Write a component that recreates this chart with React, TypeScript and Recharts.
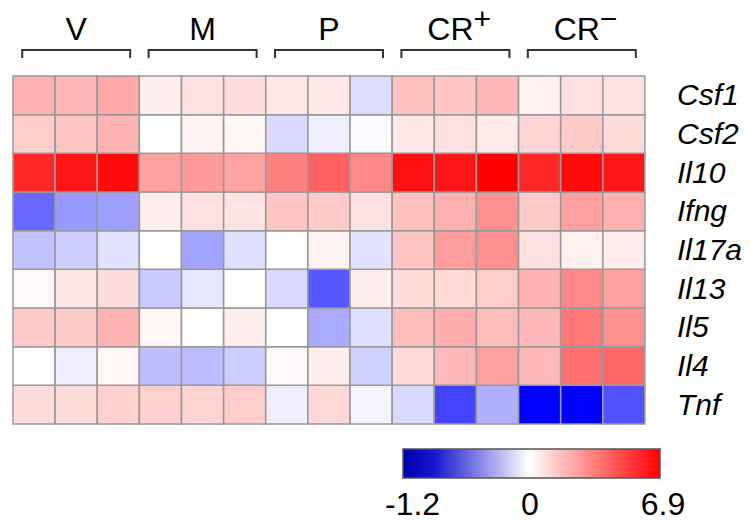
import { BarChart, Bar, XAxis, YAxis, Cell } from 'recharts'

// rows top to bottom, 15 samples each (V, M, P, CR+, CR- in triplicate)
const genes = ['Csf1', 'Csf2', 'Il10', 'Ifng', 'Il17a', 'Il13', 'Il5', 'Il4', 'Tnf']
const samples = ['V1', 'V2', 'V3', 'M1', 'M2', 'M3', 'P1', 'P2', 'P3', 'CRp1', 'CRp2', 'CRp3', 'CRm1', 'CRm2', 'CRm3']
const groups = ['V', 'M', 'P', 'CR', 'CR']
const groupSup = ['', '', '', '+', '−']

const csf1 = [2.14, 1.92, 2.35, 0.46, 0.84, 0.92, 0.62, 0.62, -0.16, 1.7, 1.6, 1.92, 0.41, 0.84, 0.84]
const csf2 = [1.38, 1.6, 2.03, 0, 0.3, 0.24, -0.18, -0.08, -0.02, 0.62, 0.84, 0.57, 1.16, 1.43, 0.95]
const il10 = [5.82, 6.33, 6.63, 2.57, 2.73, 2.52, 3.44, 4.3, 3.22, 6.47, 6.33, 6.9, 5.82, 6.63, 6.33]
const ifng = [-0.71, -0.48, -0.45, 0.46, 0.84, 0.78, 1.6, 1.43, 0.84, 1.7, 2.14, 3.0, 1.43, 2.57, 2.14]
const il17a = [-0.28, -0.24, -0.14, 0, -0.44, -0.15, 0, 0.35, -0.13, 1.6, 2.68, 3.0, 0.84, 0.41, 0.51]
const il13 = [0.19, 0.73, 0.95, -0.26, -0.12, 0, -0.18, -0.79, 0.46, 0.95, 1.06, 1.38, 2.14, 3.22, 2.57]
const il5 = [1.43, 1.43, 2.03, 0.24, 0.03, 0.46, 0, -0.4, -0.15, 1.81, 2.25, 1.81, 1.92, 3.65, 3.0]
const il4 = [0.08, -0.08, 0.24, -0.3, -0.32, -0.24, 0.19, 0.46, -0.22, 1.06, 1.92, 2.57, 1.92, 3.87, 4.09]
const tnf = [0.95, 0.95, 1.27, 1.27, 1.16, 1.38, -0.08, 1.06, -0.05, -0.18, -0.88, -0.37, -1.2, -1.2, -0.82]

const values = [csf1, csf2, il10, ifng, il17a, il13, il5, il4, tnf]
const vMin = -1.2
const vMax = 6.9

function colorFor(v: number) {
  if (v >= 0) {
    const g = Math.round(255 * (1 - Math.min(v / vMax, 1)))
    return `rgb(255,${g},${g})`
  }
  const g = Math.round(255 * (1 - Math.min(v / vMin, 1)))
  return `rgb(${g},${g},255)`
}

// every cell is one unit tall; stack from bottom row (Tnf) up to Csf1
const table = samples.map((s) => {
  const row: Record<string, number | string> = { sample: s }
  genes.forEach((g) => (row[g] = 1))
  return row
})
const stackOrder = [...genes].reverse()

const FONT = '"Liberation Sans", Arial, sans-serif'
const BRACKET_HALF = 54

const GeneTick = (props: any) => {
  const { x, y, payload } = props
  const name = genes[genes.length - 1 - Math.floor(payload.value)]
  return (
    <text x={x + 32} y={y} dy={10} fontSize={30} fontStyle="italic" fontFamily={FONT} fill="#000">
      {name}
    </text>
  )
}

// one label + bracket over the middle sample of each triplet
const GroupTick = (props: any) => {
  const { x, y, index } = props
  if (index % 3 !== 1) return <g />
  const gi = (index - 1) / 3
  const label = groups[gi]
  const sup = groupSup[gi]
  const by = y - 26
  return (
    <g>
      <text
        x={sup ? x - 5 : x}
        y={y - 36}
        textAnchor="middle"
        fontSize={32}
        fontFamily={FONT}
        fill="#000"
      >
        {label}
      </text>
      {sup && (
        <text x={x + 18} y={y - 47} fontSize={30} fontFamily={FONT} fill="#000">
          {sup}
        </text>
      )}
      <path
        d={`M${x - BRACKET_HALF},${by + 8}V${by}H${x + BRACKET_HALF}V${by + 8}`}
        fill="none"
        stroke="#333"
        strokeWidth={2}
      />
    </g>
  )
}

function ColorBar() {
  return (
    <svg width={735} height={80} style={{ position: 'absolute', left: 0, top: 430, overflow: 'visible' }}>
      <defs>
        <linearGradient id="cbar" x1="0" x2="1" y1="0" y2="0">
          <stop offset="0" stopColor="#0000aa" />
          <stop offset="0.12" stopColor="#1515cc" />
          <stop offset="0.49" stopColor="#ffffff" />
          <stop offset="1" stopColor="#ff0000" />
        </linearGradient>
      </defs>
      <rect x={395} y={11} width={257} height={29} fill="url(#cbar)" stroke="#555" strokeWidth={1.5} />
      <g fontFamily={FONT} fontSize={32} fill="#000">
        <text x={377} y={77}>-1.2</text>
        <text x={522} y={77} textAnchor="middle">0</text>
        <text x={655} y={77} textAnchor="middle">6.9</text>
      </g>
    </svg>
  )
}

export default function App() {
  return (
    <div style={{ position: 'relative', width: 735, height: 507 }}>
      <style>{'.recharts-surface { overflow: visible; }'}</style>
      <BarChart
        width={735}
        height={507}
        data={table}
        barCategoryGap={0}
        margin={{ top: 8, right: 8, bottom: 91, left: 5 }}
      >
        <XAxis dataKey="sample" hide />
        <XAxis
          xAxisId="grp"
          dataKey="sample"
          orientation="top"
          height={60}
          axisLine={false}
          tickLine={false}
          tickSize={0}
          tickMargin={0}
          tick={<GroupTick />}
          interval={0}
        />
        <YAxis
          orientation="right"
          type="number"
          domain={[0, 9]}
          ticks={[0.5, 1.5, 2.5, 3.5, 4.5, 5.5, 6.5, 7.5, 8.5]}
          width={90}
          axisLine={false}
          tickLine={false}
          tickSize={0}
          tickMargin={0}
          tick={<GeneTick />}
          interval={0}
        />
        {stackOrder.map((g) => {
          const vals = values[genes.indexOf(g)]
          return (
            <Bar key={g} dataKey={g} stackId="h" stroke="#999" strokeWidth={1.5} isAnimationActive={false}>
              {vals.map((v, i) => (
                <Cell key={i} fill={colorFor(v)} />
              ))}
            </Bar>
          )
        })}
      </BarChart>
      <ColorBar />
    </div>
  )
}
